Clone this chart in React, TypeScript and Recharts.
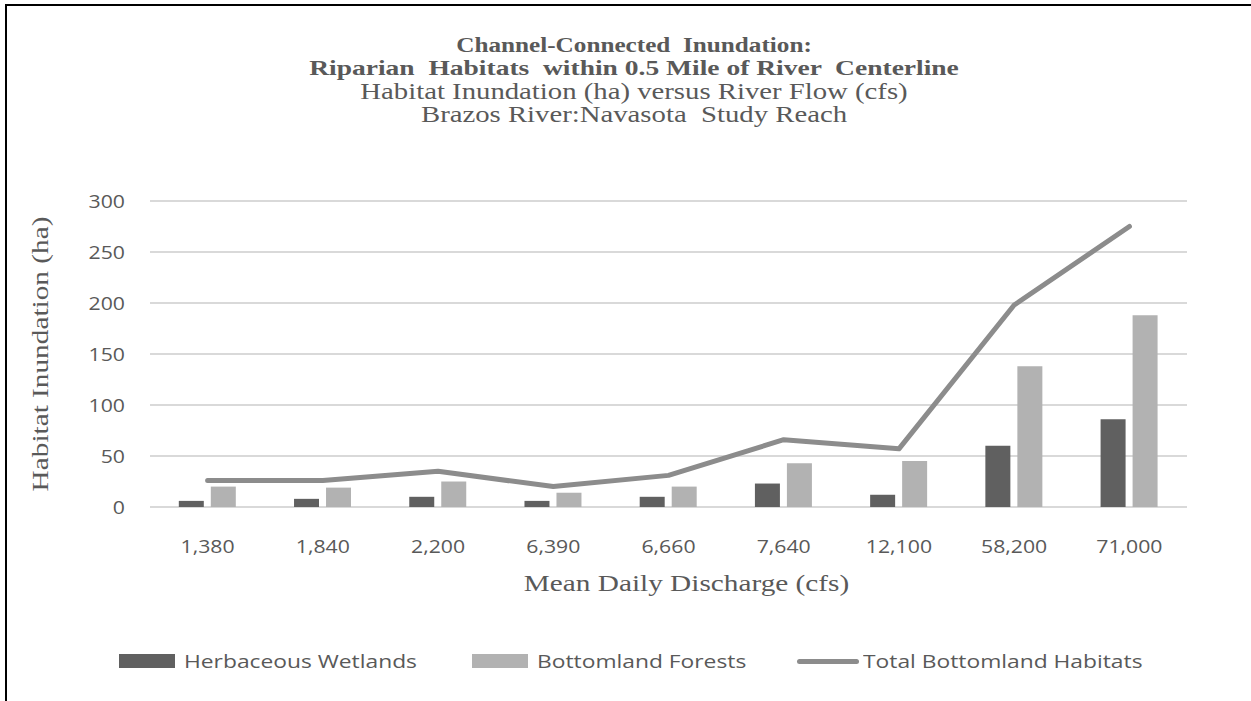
import React from 'react';
import { ComposedChart, Bar, Line, XAxis, YAxis, CartesianGrid, Legend, Label } from 'recharts';

// flow categories (cfs)
const flows = ['1,380', '1,840', '2,200', '6,390', '6,660', '7,640', '12,100', '58,200', '71,000'];
// inundated area by habitat (ha)
const herbaceousWetlands = [6, 8, 10, 6, 10, 23, 12, 60, 86];
const bottomlandForests = [20, 19, 25, 14, 20, 43, 45, 138, 188];
const totalBottomland = [26, 26, 35, 20, 31, 66, 57, 198, 275];
const yTicks = [0, 50, 100, 150, 200, 250, 300];

const titleLines = [
    { text: 'Channel-Connected  Inundation:', bold: true, sx: 1.2 },
    { text: 'Riparian  Habitats  within 0.5 Mile of River  Centerline', bold: true, sx: 1.31 },
    { text: 'Habitat Inundation (ha) versus River Flow (cfs)', bold: false, sx: 1.25 },
    { text: 'Brazos River:Navasota  Study Reach', bold: false, sx: 1.25 },
];

const data = flows.map((flow, i) => ({
    flow,
    herb: herbaceousWetlands[i],
    forest: bottomlandForests[i],
    total: totalBottomland[i],
}));

const GREY = '#595959';
const SERIF = '"Liberation Serif", "Times New Roman", serif';
const SANS = '"Open Sans", "Noto Sans", sans-serif';

// text drawn a little wider than the font's natural width
const WideText = ({ x, y, sx = 1.2, anchor = 'middle', size = 18, family = SANS, weight = 'normal', rotate = 0, children }: any) => (
    <text
        transform={`translate(${x},${y}) rotate(${rotate}) scale(${sx},1)`}
        textAnchor={anchor}
        dominantBaseline="central"
        fontSize={size}
        fontFamily={family}
        fontWeight={weight}
        fill={GREY}
        style={{ whiteSpace: 'pre' }}
    >
        {children}
    </text>
);

const XTick = ({ x, y, payload }: any) => (
    <WideText x={x} y={y + 39} sx={1.18} size={18}>
        {payload.value}
    </WideText>
);

const YTick = ({ x, y, payload }: any) => (
    <WideText x={x - 25} y={y} sx={1.18} size={18} anchor="end">
        {payload.value}
    </WideText>
);

const XTitle = ({ viewBox }: any) => (
    <WideText x={viewBox.x + viewBox.width / 2 + 18} y={viewBox.y + 76} sx={1.22} size={24} family={SERIF}>
        Mean Daily Discharge (cfs)
    </WideText>
);

const YTitle = ({ viewBox }: any) => (
    <WideText x={40} y={viewBox.y + viewBox.height / 2} sx={1.22} size={24} family={SERIF} rotate={-90}>
        Habitat Inundation (ha)
    </WideText>
);

const legendItems = [
    { name: 'Herbaceous Wetlands', color: '#606060', kind: 'bar', x: 119 },
    { name: 'Bottomland Forests', color: '#b2b2b2', kind: 'bar', x: 472 },
    { name: 'Total Bottomland Habitats', color: '#8c8c8c', kind: 'line', x: 797 },
];

const renderLegend = () => (
    <div style={{ position: 'relative', width: 1251, height: 24 }}>
        {legendItems.map((item) => (
            <div
                key={item.name}
                style={{ position: 'absolute', left: item.x, top: 0, display: 'flex', alignItems: 'center', height: 24 }}
            >
                {item.kind === 'bar' ? (
                    <span style={{ display: 'inline-block', width: 56, height: 14, background: item.color }} />
                ) : (
                    <span style={{ display: 'inline-block', width: 62, height: 5, borderRadius: 3, background: item.color }} />
                )}
                <span
                    style={{
                        marginLeft: item.kind === 'bar' ? 9 : 4,
                        fontFamily: SANS,
                        fontSize: 19,
                        color: GREY,
                        whiteSpace: 'nowrap',
                        display: 'inline-block',
                        transform: 'scaleX(1.2)',
                        transformOrigin: 'left center',
                    }}
                >
                    {item.name}
                </span>
            </div>
        ))}
    </div>
);

const App = () => {
    return (
        <div style={{ position: 'absolute', left: 0, top: 0, width: 1251, height: 701, background: '#fff', overflow: 'hidden' }}>
            <div
                style={{
                    position: 'absolute',
                    left: 5,
                    top: 4,
                    width: 1251,
                    height: 710,
                    borderTop: '2px solid #000',
                    borderLeft: '2px solid #000',
                }}
            />
            <svg width={1251} height={140} style={{ position: 'absolute', left: 0, top: 0 }}>
                {titleLines.map((line, i) => (
                    <WideText
                        key={line.text}
                        x={634}
                        y={45 + i * 23}
                        sx={line.sx}
                        size={line.bold ? 21 : 23}
                        family={SERIF}
                        weight={line.bold ? 'bold' : 'normal'}
                    >
                        {line.text}
                    </WideText>
                ))}
            </svg>
            <ComposedChart
                width={1251}
                height={701}
                data={data}
                margin={{ top: 201, right: 64, bottom: 140, left: 70 }}
                barCategoryGap="25%"
                barGap={7}
                style={{ position: 'absolute', left: 0, top: 0 }}
            >
                <CartesianGrid vertical={false} stroke="#d9d9d9" strokeWidth={2} />
                <XAxis
                    dataKey="flow"
                    height={30}
                    axisLine={false}
                    tickLine={false}
                    tickSize={0}
                    tickMargin={0}
                    tick={XTick}
                >
                    <Label content={XTitle} />
                </XAxis>
                <YAxis
                    width={80}
                    domain={[0, 300]}
                    ticks={yTicks}
                    axisLine={false}
                    tickLine={false}
                    tickSize={0}
                    tickMargin={0}
                    tick={YTick}
                >
                    <Label content={YTitle} />
                </YAxis>
                <Bar dataKey="herb" name="Herbaceous Wetlands" fill="#606060" isAnimationActive={false} />
                <Bar dataKey="forest" name="Bottomland Forests" fill="#b2b2b2" isAnimationActive={false} />
                <Line
                    dataKey="total"
                    name="Total Bottomland Habitats"
                    type="linear"
                    stroke="#8c8c8c"
                    strokeWidth={5}
                    strokeLinecap="round"
                    strokeLinejoin="round"
                    dot={false}
                    activeDot={false}
                    isAnimationActive={false}
                />
                <Legend
                    content={renderLegend}
                    wrapperStyle={{ position: 'absolute', left: 0, top: 649, width: 1251 }}
                />
            </ComposedChart>
        </div>
    );
};

export default App;
